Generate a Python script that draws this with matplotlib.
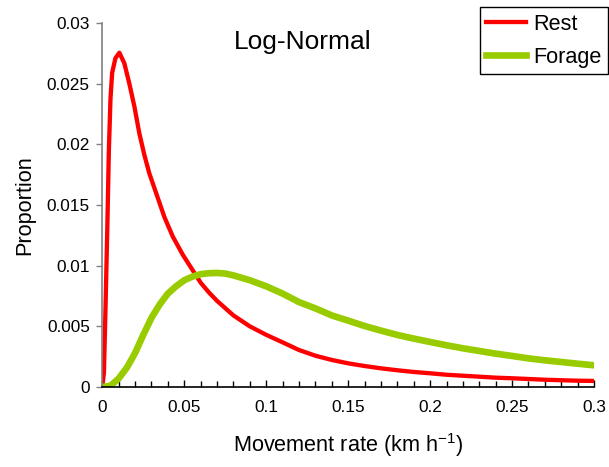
import numpy as np
import matplotlib
matplotlib.use("Agg")
import matplotlib.pyplot as plt

plt.rcParams['font.family'] = ['Liberation Sans', 'DejaVu Sans']

# movement rate (km/h) and proportion for each behaviour
rest_x = [0, 0.001, 0.002, 0.003, 0.004, 0.005, 0.006, 0.008, 0.0104, 0.0134, 0.0165,
          0.0196, 0.0226, 0.0257, 0.0287, 0.0328, 0.0379, 0.043, 0.0491, 0.0562, 0.06,
          0.065, 0.07, 0.075, 0.08, 0.09, 0.10, 0.11, 0.12, 0.13, 0.14, 0.15, 0.16, 0.17,
          0.18, 0.19, 0.20, 0.21, 0.22, 0.23, 0.24, 0.25, 0.26, 0.27, 0.28, 0.29, 0.30]
rest_y = [0, 0.0012, 0.0068, 0.0128, 0.0195, 0.0238, 0.0259, 0.0271, 0.02755, 0.0267, 0.0250,
          0.0231, 0.0209, 0.0191, 0.0176, 0.0160, 0.0140, 0.0124, 0.0109, 0.0094, 0.0086,
          0.0078, 0.0071, 0.0065, 0.0059, 0.0050, 0.0043, 0.00368, 0.00305, 0.00258,
          0.00223, 0.00195, 0.00173, 0.00154, 0.00138, 0.00124, 0.00113, 0.00101, 0.00093,
          0.00085, 0.00077, 0.00072, 0.00066, 0.0006, 0.00056, 0.00052, 0.0005]

forage_x = [0, 0.005, 0.01, 0.015, 0.02, 0.025, 0.03, 0.035, 0.04, 0.045, 0.05, 0.055, 0.06,
            0.065, 0.07, 0.075, 0.08, 0.09, 0.10, 0.11, 0.12, 0.13, 0.14, 0.15, 0.16, 0.17,
            0.18, 0.19, 0.20, 0.21, 0.22, 0.23, 0.24, 0.25, 0.26, 0.27, 0.28, 0.29, 0.30]
forage_y = [0, 0.0001, 0.0007, 0.0016, 0.0028, 0.0043, 0.0057, 0.0068, 0.0077, 0.0083, 0.0088,
            0.0091, 0.0093, 0.00938, 0.0094, 0.00935, 0.0092, 0.0088, 0.0083, 0.0077, 0.0070,
            0.00648, 0.0059, 0.00547, 0.00503, 0.00465, 0.00429, 0.00399, 0.00371, 0.00344,
            0.00319, 0.00297, 0.00275, 0.00256, 0.00236, 0.0022, 0.00206, 0.00192, 0.00179]

x_ticks = [0, 0.05, 0.1, 0.15, 0.2, 0.25, 0.3]
x_labels = ['0', '0.05', '0.1', '0.15', '0.2', '0.25', '0.3']
x_minor = [0.01 * i for i in range(31)]
y_ticks = [0, 0.005, 0.01, 0.015, 0.02, 0.025, 0.03]
y_labels = ['0', '0.005', '0.01', '0.015', '0.02', '0.025', '0.03']

fig = plt.figure(figsize=(6.09, 4.67), dpi=100)
ax = fig.add_axes([0.168, 0.1713, 0.8074, 0.7794])

ax.plot(rest_x, rest_y, color='#FF0000', lw=3.1, label='Rest', solid_joinstyle='round')
ax.plot(forage_x, forage_y, color='#99CC00', lw=4.8, label='Forage', solid_joinstyle='round')

ax.set_xlim(0, 0.3)
ax.set_ylim(0, 0.03)
ax.set_xticks(x_ticks)
ax.set_xticklabels(x_labels)
ax.set_xticks(x_minor, minor=True)
ax.set_yticks(y_ticks)
ax.set_yticklabels(y_labels)

ax.spines['top'].set_visible(False)
ax.spines['right'].set_visible(False)
ax.spines['left'].set_color('#808080')
ax.spines['left'].set_linewidth(1.2)
ax.spines['bottom'].set_linewidth(1.2)

ax.tick_params(axis='x', which='major', direction='in', length=5, width=1, pad=9, labelsize=12.4)
ax.tick_params(axis='x', which='minor', direction='in', length=4, width=1)
ax.tick_params(axis='y', direction='out', length=4, width=1, color='#808080', pad=5, labelsize=12.4)

ax.set_xlabel('Movement rate (km h$^{\\mathregular{-1}}$)', fontsize=15.6, labelpad=12)
ax.set_ylabel('Proportion', fontsize=15.6, labelpad=8)

ax.text(0.407, 0.948, 'Log-Normal', transform=ax.transAxes, fontsize=19,
        ha='center', va='center')

leg = fig.legend(loc='upper right', bbox_to_anchor=(0.998, 0.984), fontsize=15.6,
                 frameon=True, fancybox=False, edgecolor='black', framealpha=1,
                 handlelength=1.85, handletextpad=0.3, labelspacing=0.55,
                 borderpad=0.3, borderaxespad=0)
leg.get_frame().set_linewidth(1.0)

fig.savefig('out.png', dpi=100)
